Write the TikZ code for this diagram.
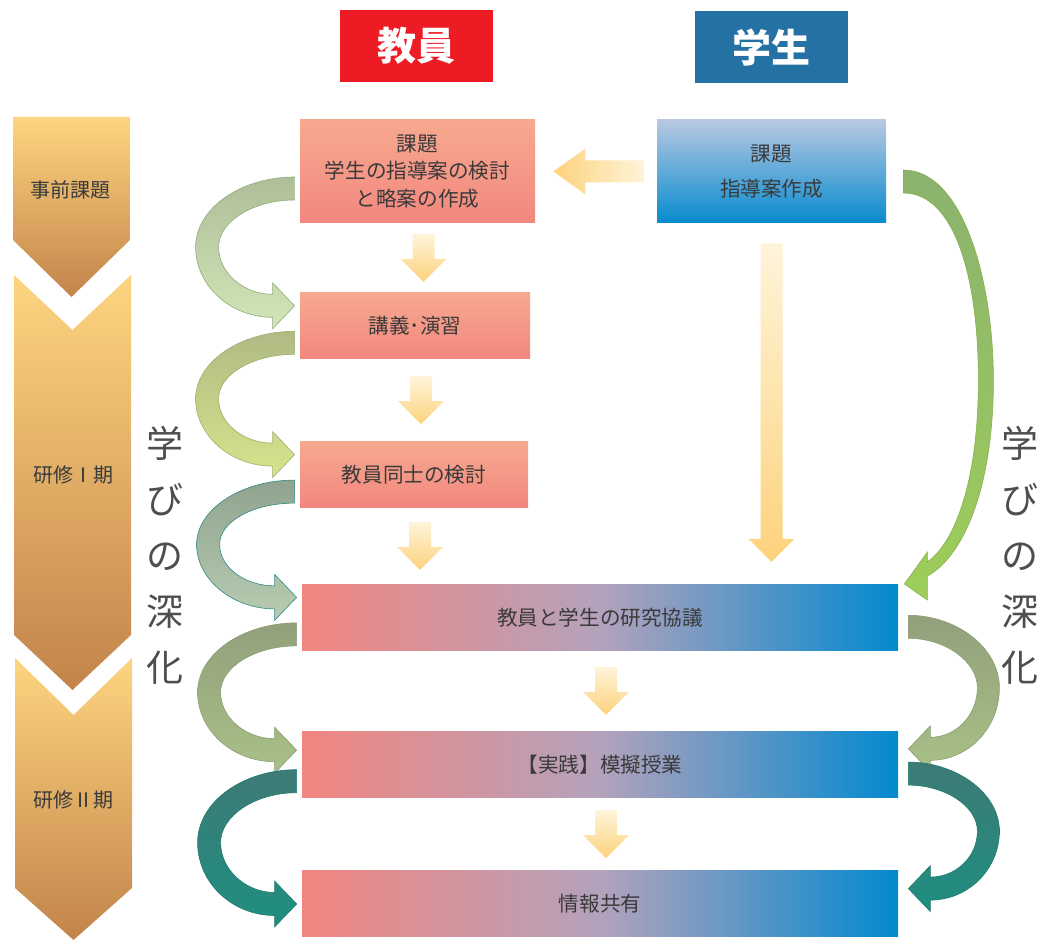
\documentclass[tikz,border=0pt]{standalone}
\usepackage{fontspec}
\setmainfont{Noto Sans CJK JP}
\usetikzlibrary{positioning, calc}

\definecolor{hred}{HTML}{ED1C24}
\definecolor{hblue}{HTML}{2471A4}
\definecolor{tpinktop}{HTML}{F7A98F}
\definecolor{tpinkbot}{HTML}{F2877F}
\definecolor{sbluetop}{HTML}{B9C8E2}
\definecolor{sbluebot}{HTML}{078BCF}
\definecolor{wpink}{HTML}{F2857F}
\definecolor{wmid}{HTML}{B4A2BC}
\definecolor{wblue}{HTML}{0389CF}
\definecolor{ylight}{HTML}{FEF4DA}
\definecolor{ydark}{HTML}{FDD27C}
\definecolor{chtop}{HTML}{FDD580}
\definecolor{chbot}{HTML}{C3834A}
\definecolor{txtgray}{HTML}{3A3A3A}
\definecolor{g1top}{HTML}{AEBE98}
\definecolor{g1bot}{HTML}{D2E6B8}
\definecolor{g1edge}{HTML}{8FAE7A}
\definecolor{g2top}{HTML}{B0BA84}
\definecolor{g2bot}{HTML}{D5E58B}
\definecolor{g2edge}{HTML}{9DB06F}
\definecolor{g3top}{HTML}{8FA38F}
\definecolor{g3bot}{HTML}{B8CDB1}
\definecolor{g3edge}{HTML}{2E8B80}
\definecolor{g4top}{HTML}{92A07B}
\definecolor{g4bot}{HTML}{A8C187}
\definecolor{g4edge}{HTML}{8A9E73}
\definecolor{g5top}{HTML}{3E7A76}
\definecolor{g5bot}{HTML}{1E8F80}
\definecolor{g5edge}{HTML}{1F7A6F}
\definecolor{bgtop}{HTML}{8BB26E}
\definecolor{bgbot}{HTML}{9ECE5A}

\tikzset{
  every node/.style={text=txtgray, font=\fontsize{10.3}{13.75}\selectfont, inner sep=0pt},
  head/.style={minimum width=76.5pt, minimum height=36pt, text=white,
    font=\fontsize{19.5}{20}\selectfont\bfseries},
  tbox/.style={top color=tpinktop, bottom color=tpinkbot, align=center},
  sbox/.style={top color=sbluetop, bottom color=sbluebot, align=center,
    minimum width=114.5pt, minimum height=51.5pt},
  wbox/.style={left color=wpink, right color=wblue, middle color=wmid,
    minimum width=298pt, minimum height=33pt},
  ygrad/.style={top color=ylight, bottom color=ydark},
  chev/.style={top color=chtop, bottom color=chbot},
  deep/.style={font=\fontsize{18.5}{28}\selectfont, align=center, text=txtgray!90},
  stage/.style={font=\fontsize{10}{12}\selectfont},
}

% curled arrow on the left, from box #2 to box #3 (#1 moves the tip down)
\newcommand{\curlleft}[6][0]{%
  \coordinate (S) at ($(#2.west)+(-5,17)$);
  \coordinate (T) at ($(#3.west)+(-5,-20+#1)$);
  \coordinate (B) at ($(T)+(-22,0)$);
  \coordinate (M) at ($(S)!0.5!(B)$);
  \coordinate (L) at ($(M)+(-88,0)$);
  \coordinate (Li) at ($(M)+(-65,0)$);
  \coordinate (U) at ($(S)!0.17!(B)$);
  \coordinate (D) at ($(S)!0.83!(B)$);
  \coordinate (Ui) at ($(S)!0.28!(B)$);
  \coordinate (Di) at ($(S)!0.72!(B)$);
  \shadedraw[top color=#4, bottom color=#5, draw=#6, line width=0.3pt]
    ($(S)+(0,-11.5)$) .. controls ($(S)+(-54,-11.5)$) and (L |- U) .. (L)
    .. controls (L |- D) and ($(B)+(-42,11.5)$) .. ($(B)+(0,11.5)$)
    -- ($(B)+(0,23)$) -- (T) -- ($(B)+(0,-23)$) -- ($(B)+(0,-11.5)$)
    .. controls ($(B)+(-29,-11.5)$) and (Li |- Di) .. (Li)
    .. controls (Li |- Ui) and ($(S)+(-41,11.5)$) .. ($(S)+(0,11.5)$) -- cycle;
}

% curled arrow on the right, from box #1 to box #2
\newcommand{\curlright}[5]{%
  \coordinate (S) at ($(#1.south east)+(10,-24)$);
  \coordinate (T) at ($(#2.north east)+(10,18)$);
  \coordinate (B) at ($(T)+(22,0)$);
  \coordinate (M) at ($(S)!0.5!(B)$);
  \coordinate (L) at ($(M)+(80,0)$);
  \coordinate (Li) at ($(M)+(58,0)$);
  \coordinate (U) at ($(S)!0.17!(B)$);
  \coordinate (D) at ($(S)!0.83!(B)$);
  \coordinate (Ui) at ($(S)!0.28!(B)$);
  \coordinate (Di) at ($(S)!0.72!(B)$);
  \shadedraw[top color=#3, bottom color=#4, draw=#5, line width=0.3pt]
    ($(S)+(0,-11.5)$) .. controls ($(S)+(48,-11.5)$) and (L |- U) .. (L)
    .. controls (L |- D) and ($(B)+(38,11.5)$) .. ($(B)+(0,11.5)$)
    -- ($(B)+(0,23)$) -- (T) -- ($(B)+(0,-23)$) -- ($(B)+(0,-11.5)$)
    .. controls ($(B)+(26,-11.5)$) and (Li |- Di) .. (Li)
    .. controls (Li |- Ui) and ($(S)+(36,11.5)$) .. ($(S)+(0,11.5)$) -- cycle;
}

% short yellow arrow below box #1, towards box #2
\newcommand{\ydown}[2]{%
  \coordinate (M) at ($(#1.south)!0.5!(#1.south |- #2.north)+(6,0)$);
  \coordinate (P) at ($(M)+(0,-24)$);
  \coordinate (Q) at ($(M)+(0,24)$);
  \shade[ygrad]
    ($(P)+(-11,0)$) -- ($(Q)+(-11,-23)$) -- ($(Q)+(-23,-23)$) -- (Q)
    -- ($(Q)+(23,-23)$) -- ($(Q)+(11,-23)$) -- ($(P)+(11,0)$) -- cycle;
}

\begin{document}
\begin{tikzpicture}[x=0.5pt, y=-0.5pt]
  \useasboundingbox (0,0) rectangle (1041,940);

  % stages
  \shade[chev] (13,117) -- (130,117) -- (130,240) -- (71.5,297) -- (13,240) -- cycle;
  \shade[chev] (14,275) -- (72.5,330) -- (131,275) -- (131,635) -- (72.5,690) -- (14,635) -- cycle;
  \shade[chev] (15,658) -- (73.5,715) -- (132,658) -- (132,888) -- (73.5,940) -- (15,888) -- cycle;
  \node[stage] (pre) at (71,190) {事前課題};
  \node[stage] (t1) at (73,475) {研修Ⅰ期};
  \node[stage] (t2) at (73,800) {研修Ⅱ期};

  % headers
  \node[head, fill=hred] (th) at (416.5,46) {教員};
  \node[head, fill=hblue] (sh) at (771.5,47.5) {学生};

  % boxes
  \node[tbox, minimum width=117.5pt, minimum height=51.5pt] (b1) at (417.5,171.5)
    {課題\\学生の指導案の検討\\と略案の作成};
  \node[tbox, minimum width=115pt, minimum height=33pt,
    below=34.5pt of b1.south west, anchor=north west] (b2) {講義･演習};
  \node[tbox, minimum width=114pt, minimum height=33pt,
    below=41pt of b2.south west, anchor=north west] (b3) {教員同士の検討};
  \node[wbox, below=38pt of b3.south west, anchor=north west, xshift=1pt] (con)
    {教員と学生の研究協議};
  \node[wbox, below=40pt of con] (les) {【実践】模擬授業};
  \node[wbox, below=36.5pt of les] (inf) {情報共有};
  \node[sbox] (stu) at (771.5,171.5) {課題\\[3.75pt]指導案作成};

  % yellow arrows
  \ydown{b1}{b2}
  \ydown{b2}{b3}
  \ydown{b3}{con}
  \ydown{con}{les}
  \ydown{les}{inf}
  \coordinate (P) at ($(stu.west)+(-12,0)$);
  \coordinate (Q) at ($(b1.east)+(18,0)$);
  \shade[left color=ydark, right color=ylight]
    ($(P)+(0,-11)$) -- ($(Q)+(32,-11)$) -- ($(Q)+(32,-23)$) -- (Q)
    -- ($(Q)+(32,23)$) -- ($(Q)+(32,11)$) -- ($(P)+(0,11)$) -- cycle;
  \coordinate (P) at ($(stu.south)+(0,20)$);
  \coordinate (Q) at ($(con.north -| stu.south)+(0,-22)$);
  \shade[ygrad]
    ($(P)+(-11,0)$) -- ($(Q)+(-11,-23)$) -- ($(Q)+(-23,-23)$) -- (Q)
    -- ($(Q)+(23,-23)$) -- ($(Q)+(11,-23)$) -- ($(P)+(11,0)$) -- cycle;

  % green curls
  \curlleft{b1}{b2}{g1top}{g1bot}{g1edge}
  \curlleft{b2}{b3}{g2top}{g2bot}{g2edge}
  \curlleft{b3}{con}{g3top}{g3bot}{g3edge}
  \curlleft[6]{con}{les}{g4top}{g4bot}{g4edge}
  \curlleft[20]{les}{inf}{g5top}{g5bot}{g5edge}
  \curlright{con}{les}{g4top}{g4bot}{g4edge}
  \curlright{les}{inf}{g5top}{g5bot}{g5edge}

  % long curl from the students
  \coordinate (S) at ($(stu.east)+(17,10.5)$);
  \coordinate (T) at ($(con.north east)+(6,0)$);
  \shadedraw[top color=bgtop, bottom color=bgbot, draw=bgbot!85!black, line width=0.3pt]
    ($(S)+(0,-12)$) .. controls ($(S)+(60,-12)$) and ($(S)+(90,100)$) .. ($(S)+(90,198)$)
    .. controls ($(S)+(90,308)$) and ($(T)+(58,-27)$) .. ($(T)+(23,-8)$)
    -- ($(T)+(23,16)$) -- (T) -- ($(T)+(23,-32)$) -- ($(T)+(23,-22)$)
    .. controls ($(T)+(51,-42)$) and ($(S)+(75,298)$) .. ($(S)+(75,198)$)
    .. controls ($(S)+(75,98)$) and ($(S)+(52,11)$) .. ($(S)+(0,11)$) -- cycle;

  % learning deepens
  \node[deep] (dl) at (165,555) {学\\び\\の\\深\\化};
  \node[deep] (dr) at (1020,555) {学\\び\\の\\深\\化};
\end{tikzpicture}
\end{document}
